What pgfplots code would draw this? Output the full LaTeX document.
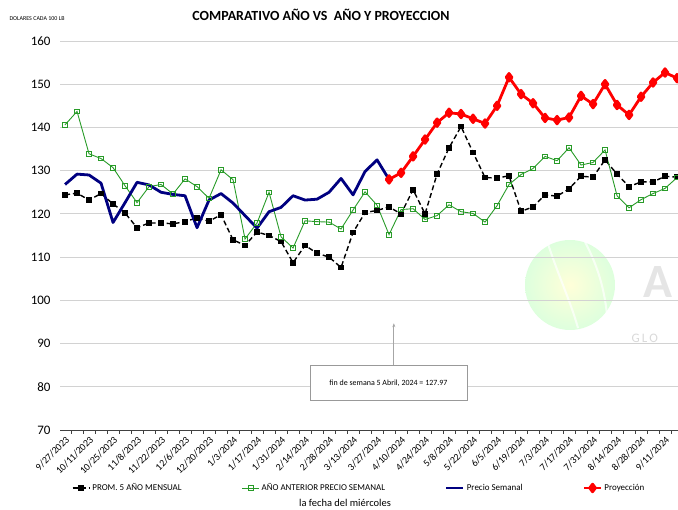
\documentclass[border=0pt]{standalone}
\usepackage{pgfplots}
\pgfplotsset{compat=1.18}
\usepackage{pgfplotstable}
\usepackage{fontspec}
\setmainfont{Carlito}
\usetikzlibrary{arrows.meta}
\definecolor{cblue}{RGB}{0,0,128}
\definecolor{cred}{RGB}{255,0,0}
\definecolor{cgreen}{RGB}{40,155,40}
\definecolor{cgrid}{RGB}{210,210,210}

\pgfplotstableread{
x y
0 124.4
1 124.8
2 123.2
3 124.7
4 122.3
5 120.2
6 116.8
7 117.9
8 117.9
9 117.7
10 118.2
11 119.1
12 118.3
13 119.8
14 114.0
15 112.7
16 115.8
17 115.0
18 113.6
19 108.7
20 112.7
21 110.9
22 110.0
23 107.6
24 115.7
25 120.3
26 120.8
27 121.6
28 120.0
29 125.6
30 120.0
31 129.2
32 135.3
33 140.2
34 134.2
35 128.4
36 128.3
37 128.8
38 120.6
39 121.6
40 124.4
41 124.1
42 125.8
43 128.7
44 128.5
45 132.5
46 129.2
47 126.3
48 127.4
49 127.4
50 128.7
51 128.5
}\prom

\pgfplotstableread{
x y
0 140.6
1 143.7
2 133.9
3 132.8
4 130.7
5 126.5
6 122.6
7 126.3
8 126.8
9 124.6
10 128.1
11 126.3
12 123.6
13 130.2
14 127.9
15 114.2
16 117.9
17 125.0
18 114.7
19 112.1
20 118.4
21 118.2
22 118.1
23 116.5
24 120.9
25 125.1
26 122.0
27 115.2
28 121.0
29 121.2
30 118.7
31 119.6
32 122.1
33 120.5
34 120.1
35 118.1
36 121.9
37 126.8
38 129.1
39 130.5
40 133.3
41 132.3
42 135.3
43 131.3
44 131.9
45 134.8
46 124.2
47 121.4
48 123.3
49 124.7
50 125.9
51 128.4
}\anterior

\pgfplotstableread{
x y
0 126.8
1 129.2
2 129.0
3 127.1
4 118.0
5 122.6
6 127.3
7 126.7
8 125.0
9 124.5
10 124.2
11 116.8
12 123.2
13 124.7
14 122.5
15 119.6
16 116.7
17 120.5
18 121.5
19 124.2
20 123.2
21 123.4
22 125.0
23 128.2
24 124.4
25 129.8
26 132.5
27 127.97
}\semanal

\pgfplotstableread{
x y
27 127.97
28 129.5
29 133.3
30 137.2
31 141.1
32 143.4
33 143.1
34 142.0
35 140.9
36 145.0
37 151.6
38 147.7
39 145.6
40 142.2
41 141.7
42 142.3
43 147.3
44 145.4
45 150.0
46 145.2
47 142.9
48 147.1
49 150.4
50 152.7
51 151.4
}\proy

\begin{document}
\begin{tikzpicture}[x=1bp,y=1bp]
\useasboundingbox (0,0) rectangle (678,510);
% watermark
\shade[inner color=yellow!25!white, outer color=green!22!white, opacity=0.6] (570,225) circle (45);
\draw[white, line width=2bp, opacity=0.7] (548,266) .. controls (560,230) and (570,210) .. (578,182);
\draw[white, line width=2bp, opacity=0.7] (585,268) .. controls (600,240) and (605,215) .. (607,195);
\node[text=gray!20, font=\fontsize{48}{48}\selectfont\bfseries, anchor=west] at (640,228) {A};
\node[text=gray!30, font=\fontsize{13}{13}\selectfont, anchor=west] at (628,172) {G\,L\,O};
\begin{axis}[
  at={(60bp,80bp)}, anchor=south west,
  scale only axis, width=618bp, height=389bp,
  xmin=-0.42, xmax=51.08, ymin=70, ymax=160,
  ytick={70,80,...,160},
  ymajorgrids, grid style={cgrid, line width=0.9bp},
  axis x line*=bottom, axis y line*=left,
  y axis line style={draw=none},
  x axis line style={draw=black!75, line width=0.8bp, -},
  xtick={0,2,...,50},
  minor xtick={-0.5,0.5,...,51},
  xticklabels={9/27/2023,10/11/2023,10/25/2023,11/8/2023,11/22/2023,12/6/2023,12/20/2023,1/3/2024,1/17/2024,1/31/2024,2/14/2024,2/28/2024,3/13/2024,3/27/2024,4/10/2024,4/24/2024,5/8/2024,5/22/2024,6/5/2024,6/19/2024,7/3/2024,7/17/2024,7/31/2024,8/14/2024,8/28/2024,9/11/2024},
  x tick label style={rotate=45, anchor=north east, font=\fontsize{10}{10}\selectfont, inner sep=1bp},
  y tick label style={font=\fontsize{13}{13}\selectfont, xshift=-2bp},
  /pgf/number format/assume math mode=true,
  tick align=outside,
  major tick length=4bp, minor tick length=4bp,
  minor x tick style={draw=black!75, line width=0.6bp},
  major x tick style={draw=none},
  ytick style={draw=none},
  legend columns=4,
  legend style={at={(0.484,-0.149)}, anchor=center, draw=none, fill=none,
    font=\fontsize{9}{9}\selectfont, /tikz/every even column/.append style={column sep=58bp},
    inner sep=0pt, row sep=0pt},
  legend cell align=left,
  clip=true,
]
\addplot[black, line width=1.4bp, dash pattern=on 5bp off 3bp, mark=square*, mark size=2.2bp, mark options={solid, fill=black}] table[x=x,y=y] {\prom};
\addlegendentry{PROM. 5 AÑO MENSUAL}
\addplot[cgreen, line width=0.9bp, mark=square, mark size=2.3bp, mark options={solid, fill=white, line width=0.8bp}] table[x=x,y=y] {\anterior};
\addlegendentry{AÑO ANTERIOR PRECIO SEMANAL}
\addplot[cblue, line width=2.8bp, line join=round] table[x=x,y=y] {\semanal};
\addlegendentry{Precio Semanal}
\addplot[cred, line width=2.8bp, line join=round, mark=diamond*, mark size=3.8bp, mark options={fill=cred}] table[x=x,y=y] {\proy};
\addlegendentry{Proyección}
% annotation
\draw[gray!70, line width=0.8bp, -{Stealth[length=4bp,width=3bp]}] (axis cs:27.4,84.8) -- (axis cs:27.4,94.7);
\node[draw=gray!80, fill=white, line width=0.7bp, minimum width=157bp, minimum height=35bp, font=\fontsize{8}{8}\selectfont, inner sep=2bp] at (axis cs:26.95,80.8) {fin de semana 5 Abril, 2024 = 127.97};
\end{axis}
\node[font=\fontsize{14}{14}\selectfont\bfseries] at (321,495) {COMPARATIVO AÑO VS\ \ AÑO Y PROYECCION};
\node[font=\fontsize{6}{6}\selectfont, anchor=west] at (6,491) {DOLARES CADA 100 LB};
\node[font=\fontsize{10.5}{10.5}\selectfont] at (345,7) {la fecha del miércoles};
\end{tikzpicture}
\end{document}
